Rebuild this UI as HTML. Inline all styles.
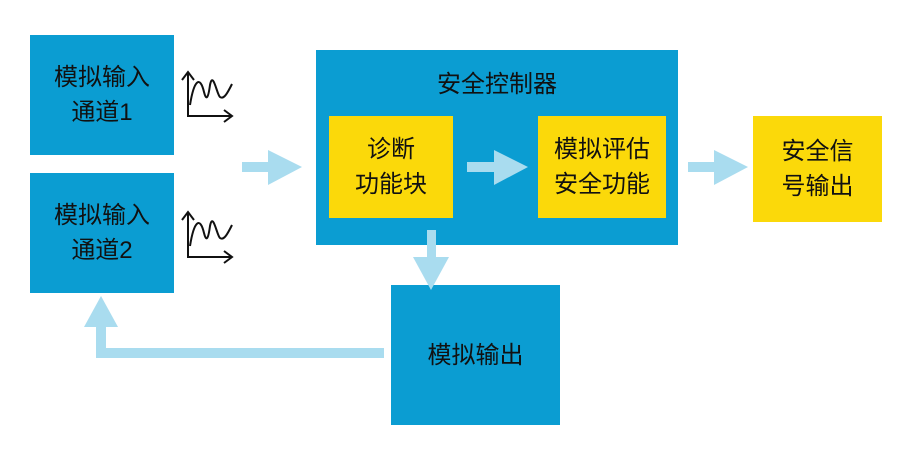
<!DOCTYPE html>
<html><head><meta charset="utf-8"><style>
body{margin:0;width:912px;height:458px;background:#fff;position:relative;overflow:hidden;font-family:"Liberation Sans","Noto Sans CJK SC",sans-serif}
.b{position:absolute;background:#0b9dd2;color:#111;font-size:24px;display:flex;align-items:center;justify-content:center;text-align:center;line-height:35px}
.y{position:absolute;background:#fbd90a;color:#111;font-size:24px;display:flex;align-items:center;justify-content:center;text-align:center;line-height:35px}
svg{position:absolute;left:0;top:0}
</style></head><body>
<div class="b" style="left:30px;top:35px;width:144px;height:120px">模拟输入<br>通道1</div>
<div class="b" style="left:30px;top:173px;width:144px;height:120px">模拟输入<br>通道2</div>
<div class="b" style="left:316px;top:50px;width:362px;height:195px;align-items:flex-start;padding-top:17px;box-sizing:border-box">安全控制器</div>
<div class="y" style="left:329px;top:116px;width:124px;height:102px">诊断<br>功能块</div>
<div class="y" style="left:538px;top:116px;width:128px;height:102px">模拟评估<br>安全功能</div>
<div class="y" style="left:753px;top:116px;width:129px;height:106px">安全信<br>号输出</div>
<div class="b" style="left:391px;top:285px;width:169px;height:140px">模拟输出</div>
<svg width="912" height="458">
<g fill="#a9dcef">
<rect x="242" y="162" width="30" height="10"/><polygon points="268,150 302,167 268,185"/>
<rect x="467" y="162" width="30" height="10"/><polygon points="494,150 528,167 494,185"/>
<rect x="688" y="162" width="30" height="10"/><polygon points="714,150 748,167 714,185"/>
<rect x="427" y="230" width="9" height="30"/><polygon points="413,257 449,257 431,290"/>
<rect x="100" y="348" width="284" height="10"/><rect x="96" y="320" width="10" height="38"/><polygon points="84,327 118,327 101,296"/>
</g>
<g fill="none" stroke="#111" stroke-width="2">
<path d="M188,72 V116 H232 M182,80 L188,72 194,80 M224,110 L232,116 224,122"/>
<path d="M190,105 C194,80 200,75 204,92 C206,100 208,100 210,85 C213,70 217,95 220,97 C224,100 228,92 232,84"/>
<path d="M188,212 V257 H232 M182,220 L188,212 194,220 M224,251 L232,257 224,263"/>
<path d="M190,246 C194,221 200,216 204,233 C206,241 208,241 210,226 C213,211 217,236 220,238 C224,241 228,233 232,225"/>
</g>
</svg>
</body></html>
